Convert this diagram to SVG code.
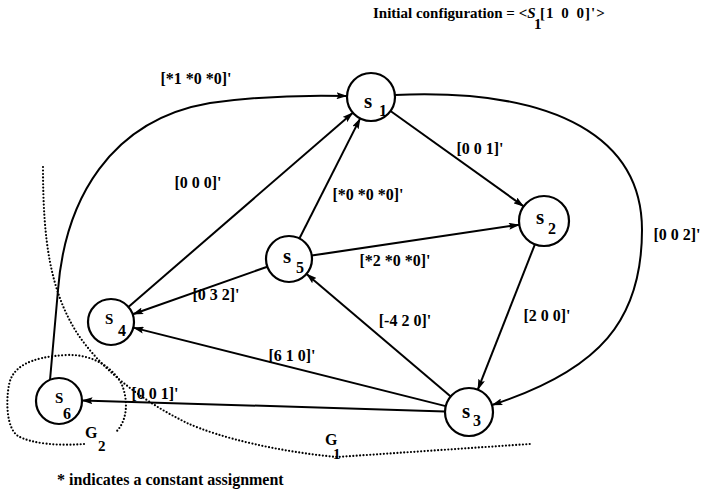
<svg xmlns="http://www.w3.org/2000/svg" width="702" height="491" viewBox="0 0 702 491">
  <defs>
    <marker id="arrow" viewBox="0 0 11 7" refX="10.5" refY="3.5" markerWidth="11" markerHeight="7" orient="auto" markerUnits="userSpaceOnUse">
      <path d="M0,0 L11,3.5 L0,7 L2,3.5 z" fill="#000"/>
    </marker>
    <style>
      .edge { fill: none; stroke: #000; stroke-width: 2; marker-end: url(#arrow); }
      .dots { fill: none; stroke: #000; stroke-width: 2.2; stroke-dasharray: 0 3.4; stroke-linecap: round; }
      .node circle { fill: #fff; stroke: #000; stroke-width: 2.2; }
      .lbl { font-family: "Liberation Serif", "Times New Roman", serif; font-weight: bold; font-size: 16px; fill: #000; }
      .ttl { font-family: "Liberation Serif", "Times New Roman", serif; font-weight: bold; font-size: 15px; fill: #000; }
      .mid { text-anchor: middle; }
      .st { font-family: "Liberation Serif", "Times New Roman", serif; font-weight: bold; font-size: 21px; fill: #000; }
      .stU { font-family: "Liberation Serif", "Times New Roman", serif; font-weight: bold; font-size: 15px; fill: #000; }
      .sub { font-family: "Liberation Serif", "Times New Roman", serif; font-weight: bold; font-size: 16px; fill: #000; }
    </style>
  </defs>

  <!-- title -->
  <text class="ttl" x="373" y="18">Initial configuration = &lt;<tspan font-style="italic">S</tspan></text>
  <text class="ttl" x="534" y="29">1</text>
  <text class="ttl" x="540" y="18" letter-spacing="1" word-spacing="2">[1 0 0]'&gt;</text>

  <!-- partition boundaries -->
  <g id="partitions">
    <path class="dots" d="M43,167 C43,240 50,290 77,333 C100,368 140,400 187,423 C220,438 280,452 337,457 L530,444"/>
    <path class="dots" d="M84,444 C60,446 32,444 18,436 C6,428 6,400 9,385 C12,368 28,357 67,355 C95,354 115,370 122,385 C128,400 128,420 116,432"/>
    <text class="lbl" x="85" y="438">G</text>
    <text class="ttl" x="98" y="451">2</text>
    <text class="lbl" x="325" y="445">G</text>
    <text class="ttl" x="333" y="459">1</text>
  </g>

  <!-- transitions -->
  <g id="connectors">
    <path class="edge" d="M50,380 L58,290 C65,200 110,120 210,103 C260,96 310,95 347,96"/>
    <path class="edge" d="M395,95 C560,88 642,140 642,230 C642,320 600,370 492,405"/>
    <path class="edge" d="M390.5,111 L523.7,206.4"/>
    <path class="edge" d="M299.4,238.5 L360.2,118.4"/>
    <path class="edge" d="M128.4,307 L352.9,112.7"/>
    <path class="edge" d="M311.7,255.6 L519.3,224.7"/>
    <path class="edge" d="M267.3,266.7 L132.7,314.3"/>
    <path class="edge" d="M450.7,396.4 L306.5,273.9"/>
    <path class="edge" d="M534.9,244.3 L477.8,389.7"/>
    <path class="edge" d="M445.7,406.1 L133.3,327.6"/>
    <path class="edge" d="M445,411.4 L82,400.4"/>

    <text class="lbl mid" x="196" y="84">[*1 *0 *0]'</text>
    <text class="lbl mid" x="198" y="188">[0 0 0]'</text>
    <text class="lbl mid" x="368" y="200">[*0 *0 *0]'</text>
    <text class="lbl mid" x="480" y="154">[0 0 1]'</text>
    <text class="lbl mid" x="395" y="266">[*2 *0 *0]'</text>
    <text class="lbl mid" x="677" y="240">[0 0 2]'</text>
    <text class="lbl mid" x="216" y="300">[0 3 2]'</text>
    <text class="lbl mid" x="292" y="361">[6 1 0]'</text>
    <text class="lbl mid" x="155" y="399">[0 0 1]'</text>
    <text class="lbl mid" x="405" y="326">[-4 2 0]'</text>
    <text class="lbl mid" x="547" y="321">[2 0 0]'</text>
  </g>

  <!-- states -->
  <g id="s1" class="node">
    <circle cx="371" cy="97" r="24"/>
    <text class="st" x="364" y="108">s</text>
    <text class="sub" x="379" y="116">1</text>
  </g>
  <g id="s2" class="node">
    <circle cx="544" cy="221" r="25"/>
    <text class="st" x="536" y="224">s</text>
    <text class="sub" x="548" y="234">2</text>
  </g>
  <g id="s3" class="node">
    <circle cx="469" cy="412" r="24"/>
    <text class="st" x="462" y="418">s</text>
    <text class="sub" x="473" y="426">3</text>
  </g>
  <g id="s4" class="node">
    <circle cx="111" cy="322" r="23"/>
    <text class="stU" x="105" y="324">S</text>
    <text class="sub" x="118" y="336">4</text>
  </g>
  <g id="s5" class="node">
    <circle cx="289" cy="259" r="23"/>
    <text class="st" x="283" y="263">s</text>
    <text class="sub" x="296" y="273">5</text>
  </g>
  <g id="s6" class="node">
    <circle cx="59" cy="401" r="23"/>
    <text class="stU" x="55" y="403">S</text>
    <text class="sub" x="63" y="419">6</text>
  </g>

  <text class="lbl" x="57" y="485" font-size="15.8">* indicates a constant assignment</text>
</svg>
